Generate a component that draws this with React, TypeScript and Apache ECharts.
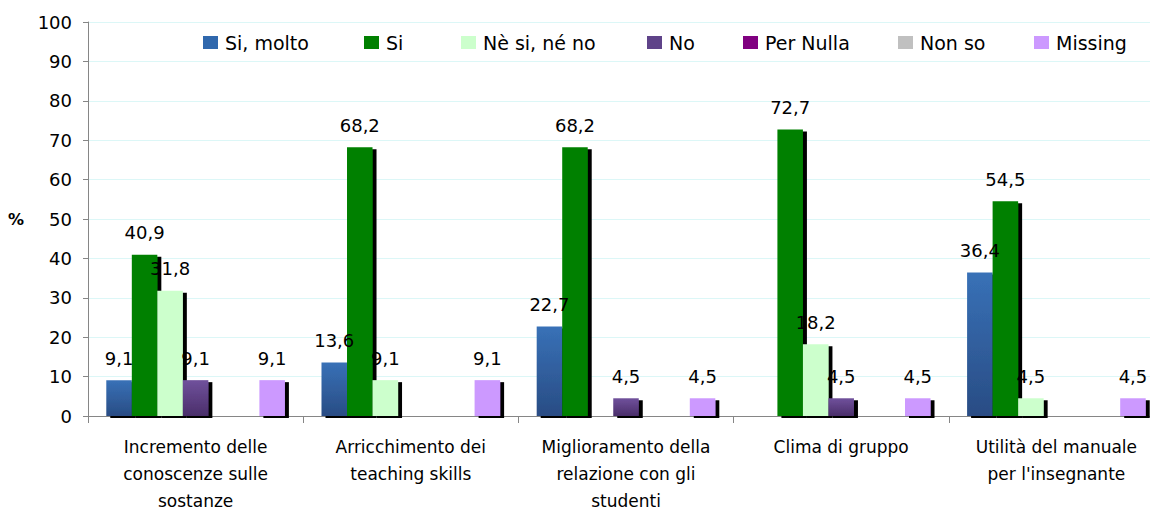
import React, { useEffect, useRef } from "react";
import * as echarts from "echarts";

const categories = [
  "Incremento delle\nconoscenze sulle\nsostanze",
  "Arricchimento dei\nteaching skills",
  "Miglioramento della\nrelazione con gli\nstudenti",
  "Clima di gruppo",
  "Utilità del manuale\nper l'insegnante",
];

const seriesNames = ["Si, molto", "Si", "Nè si, né no", "No", "Per Nulla", "Non so", "Missing"];

const siMolto = [9.1, 13.6, 22.7, 0, 36.4];
const si = [40.9, 68.2, 68.2, 72.7, 54.5];
const neSiNeNo = [31.8, 9.1, 0, 18.2, 4.5];
const no = [9.1, 0, 4.5, 4.5, 0];
const perNulla = [0, 0, 0, 0, 0];
const nonSo = [0, 0, 0, 0, 0];
const missing = [9.1, 9.1, 4.5, 4.5, 4.5];

const yTicks = [0, 10, 20, 30, 40, 50, 60, 70, 80, 90, 100];

const legendLefts = [203, 364, 461, 647, 743, 898, 1034];

const FONT = "DejaVu Sans";

export default function App() {
  const ref = useRef<HTMLDivElement>(null);
  useEffect(() => {
    if (!ref.current) return;
    const chart = echarts.init(ref.current, null, { renderer: "svg" });
    const values = [siMolto, si, neSiNeNo, no, perNulla, nonSo, missing];
    const colors: any[] = [
      new echarts.graphic.LinearGradient(0, 0, 0, 1, [
        { offset: 0, color: "#3871b7" },
        { offset: 1, color: "#294c84" },
      ]),
      "#008000",
      "#ccffcc",
      new echarts.graphic.LinearGradient(0, 0, 0, 1, [
        { offset: 0, color: "#70519c" },
        { offset: 1, color: "#4a2e6a" },
      ]),
      "#800080",
      "#c0c0c0",
      "#cc99ff",
    ];
    const legendColors = ["#3068ad", "#008000", "#ccffcc", "#5f4389", "#800080", "#c0c0c0", "#cc99ff"];
    const option: any = {
      animation: false,
      grid: { left: 88, top: 22, bottom: 96, width: 1076, outerBoundsMode: "none", containLabel: false },
      legend: seriesNames.map((n, i) => ({
        data: [{ name: n, itemStyle: { color: legendColors[i], shadowBlur: 0, shadowOffsetX: 0, shadowOffsetY: 0, shadowColor: "transparent" } }],
        left: legendLefts[i],
        top: 33,
        icon: "rect",
        itemWidth: 15,
        itemHeight: 13,
        itemGap: 0,
        padding: 0,
        selectedMode: false,
        textStyle: { fontFamily: FONT, fontSize: 19, color: "#000", padding: [0, 0, 0, 2] },
      })),
      xAxis: {
        type: "category",
        data: categories,
        axisLine: { lineStyle: { color: "#868686", width: 1 } },
        axisTick: { show: true, length: 7, lineStyle: { color: "#868686" } },
        axisLabel: {
          interval: 0,
          color: "#000",
          fontFamily: FONT,
          fontSize: 17,
          lineHeight: 27,
          margin: 17,
        },
      },
      yAxis: {
        type: "value",
        min: 0,
        max: 100,
        interval: 10,
        name: "%",
        nameLocation: "middle",
        nameRotate: 0,
        nameGap: 64,
        nameTextStyle: { fontFamily: FONT, fontSize: 16, fontWeight: "bold", color: "#000", padding: [0, 0, 8, 0] },
        axisLine: { show: true, lineStyle: { color: "#868686", width: 1 } },
        axisTick: { show: true, length: 5, lineStyle: { color: "#868686" } },
        axisLabel: {
          color: "#000",
          fontFamily: FONT,
          fontSize: 18,
          margin: 16,
          formatter: (v: number) => (yTicks.includes(v) ? String(v) : ""),
        },
        splitLine: { lineStyle: { color: "#dcf7f7", width: 1 } },
      },
      series: seriesNames.map((n, i) => ({
        name: n,
        type: "bar",
        barGap: 0,
        barCategoryGap: "17%",
        data: values[i].map((v) => (v === 0 ? null : v)),
        itemStyle: {
          color: colors[i],
          shadowColor: "#000",
          shadowBlur: 0,
          shadowOffsetX: 4,
          shadowOffsetY: 2,
        },
        label: {
          show: true,
          position: "top",
          distance: 13,
          color: "#000",
          fontFamily: FONT,
          fontSize: 18,
          formatter: (p: any) =>
            p.value == null ? "" : Number(p.value).toFixed(1).replace(".", ","),
        },
      })),
    };
    chart.setOption(option);
    return () => chart.dispose();
  }, []);
  return (
    <div
      ref={ref}
      style={{ position: "fixed", left: 0, top: 0, width: 1150, height: 512, background: "#fff" }}
    />
  );
}
